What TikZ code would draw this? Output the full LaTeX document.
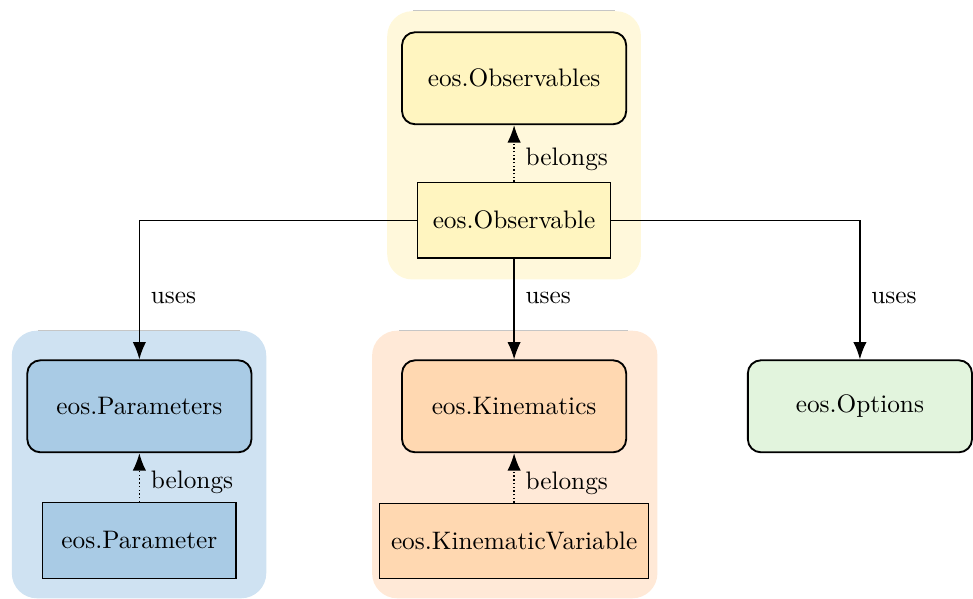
\documentclass[11pt,tikz,border=0pt]{standalone}
\usetikzlibrary{arrows.meta}

\definecolor{obsfill}{HTML}{FFF5C0}
\definecolor{obsbg}{HTML}{FFF8DB}
\definecolor{parfill}{HTML}{A9CBE5}
\definecolor{parbg}{HTML}{CFE2F2}
\definecolor{kinfill}{HTML}{FFD8B1}
\definecolor{kinbg}{HTML}{FFE9D7}
\definecolor{optfill}{HTML}{E2F4DD}

\begin{document}
\begin{tikzpicture}[->,>={Latex[length=7.5pt,width=5.8pt]},semithick,
  group node/.style={rectangle,rounded corners=2mm,draw,thick,
    minimum height=1.40cm,minimum width=3.41cm},
  item node/.style={rectangle,draw,line width=0.5pt,inner xsep=5pt,
    minimum height=1.15cm,minimum width=2.94cm},
  group bg/.style={-,rounded corners=0.38cm},
  group rule/.style={-,draw=gray!45,very thin}]

  \useasboundingbox (-7.82,-5.76) rectangle (6.98,3.35);

  % cluster backgrounds
  \fill[obsbg,group bg] (-1.93,-0.90) rectangle (1.93,3.18);
  \fill[parbg,group bg] (-7.64,-5.75) rectangle (-3.77,-1.68);
  \fill[kinbg,group bg] (-2.16,-5.75) rectangle (2.18,-1.68);
  \draw[group rule] (-1.54,3.19) -- (1.54,3.19);
  \draw[group rule] (-7.24,-1.67) -- (-4.17,-1.67);
  \draw[group rule] (-1.75,-1.67) -- (1.73,-1.67);

  \node[item node,fill=obsfill] (OBS) at (0,0) {eos.Observable};
  \node[group node,fill=obsfill] (OBSS) [node distance=2.16cm, above of=OBS] {eos.Observables};
  \node[group node,fill=kinfill] (KIN) [node distance=2.83cm, below of=OBS] {eos.Kinematics};
  \node[group node,fill=parfill] (PARS) [node distance=5.70cm, left of=KIN] {eos.Parameters};
  \node[group node,fill=optfill] (OPTS) [node distance=5.26cm, right of=KIN] {eos.Options};
  \node[item node,fill=parfill] (PAR) [node distance=2.04cm, below of=PARS] {eos.Parameter};
  \node[item node,fill=kinfill] (KINV) [node distance=2.05cm, below of=KIN] {eos.KinematicVariable};

  \draw (OBS) -- node[right=1pt,pos=0.39] {uses} (KIN);
  \draw (OBS.west) -| node[right=1pt,pos=0.78] {uses} (PARS.north);
  \draw (OBS.east) -| node[right=1pt,pos=0.78] {uses} (OPTS.north);

  \draw[densely dotted] (OBS) -- node[right=1pt,pos=0.4] {belongs} (OBSS);
  \draw[densely dotted] (PAR) -- node[right=1pt,pos=0.4] {belongs} (PARS);
  \draw[densely dotted] (KINV) -- node[right=1pt,pos=0.4] {belongs} (KIN);
\end{tikzpicture}
\end{document}
